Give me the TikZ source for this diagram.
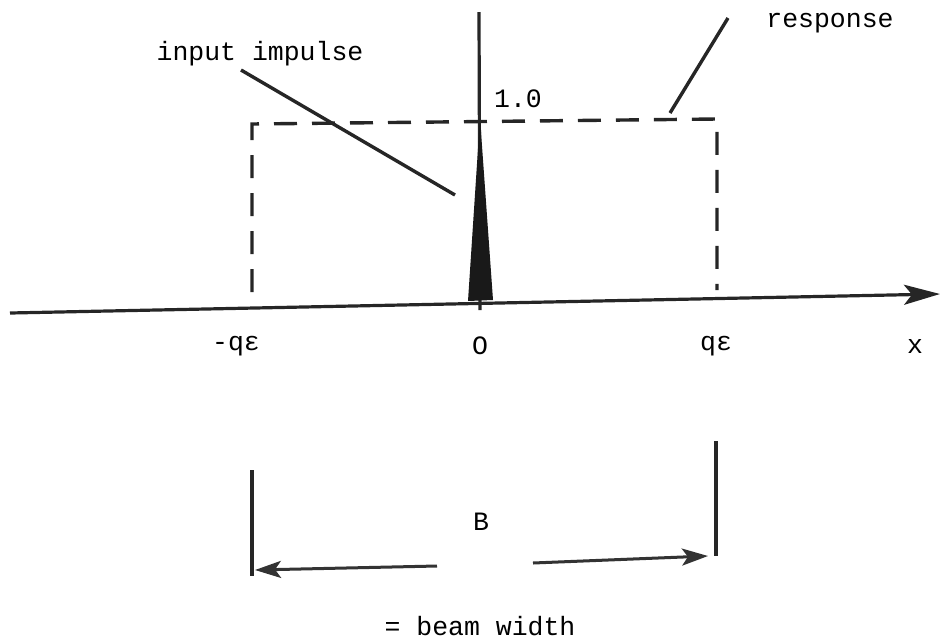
\documentclass[tikz,border=0pt]{standalone}
\usepackage{fontspec}
\setmainfont{Liberation Mono}
\usetikzlibrary{arrows.meta}
\begin{document}
\begin{tikzpicture}[x=1pt,y=-1pt,
  lbl/.style={font=\fontsize{26.5}{30}\selectfont, inner sep=1pt},
  solid line/.style={line width=3.2pt, black!85},
  dash line/.style={line width=3.4pt, black!85, dash pattern=on 23pt off 15pt},
  lead/.style={line width=3.4pt, black!85},
  dim arrow/.style={line width=3pt, black!80, -{Stealth[length=26pt,width=17pt,inset=6pt]}}]
\useasboundingbox (0,0) rectangle (943,641);
% axes
\coordinate (xl) at (10,313);
\coordinate (xr) at (940,294);
\draw[solid line, -{Stealth[length=36pt,width=20pt,inset=8pt]}] (xl) -- (xr);
\coordinate (vt) at (479,12);
\coordinate (vb) at (480,310);
\draw[solid line] (vt) -- (vb);
% impulse
\coordinate (ia) at (480,118);
\coordinate (ib1) at (468,301);
\coordinate (ib2) at (493,300);
\fill[black!90] (ia) -- (ib1) -- (ib2) -- cycle;
% dashed response
\coordinate (rl) at (252,292);
\coordinate (rtl) at (252,124);
\coordinate (rtr) at (717,119);
\coordinate (rr) at (717,290);
\draw[dash line] (rl) -- (rtl) -- (rtr) -- (rr);
% labels
\node[lbl] (one) at (518,99) {1.0};
\node[lbl] (inp) at (260,54) {input impulse};
\node[lbl] (resp) at (830,23) {response};
\coordinate (inpA) at (241,70);
\coordinate (inpB) at (455,195);
\draw[lead] (inpA) -- (inpB);
\coordinate (respA) at (728,18);
\coordinate (respB) at (670,113);
\draw[lead] (respA) -- (respB);
\node[lbl] (mq) at (236,346) {-qε};
\node[lbl] (zero) at (480,346) {O};
\node[lbl] (pq) at (716,346) {qε};
\node[lbl] (xlab) at (915,346) {x};
% beam width
\coordinate (l1) at (252,470);
\coordinate (l2) at (252,576);
\coordinate (r1) at (716,441);
\coordinate (r2) at (716,556);
\draw[solid line] (l1) -- (l2);
\draw[solid line] (r1) -- (r2);
\node[lbl] (B) at (481,522) {B};
\coordinate (aL0) at (437,566);
\coordinate (aL1) at (255,570);
\coordinate (aR0) at (533,563);
\coordinate (aR1) at (708,556);
\draw[dim arrow] (aL0) -- (aL1);
\draw[dim arrow] (aR0) -- (aR1);
\node[lbl] (bw) at (480,626) {= beam width};
\end{tikzpicture}
\end{document}
